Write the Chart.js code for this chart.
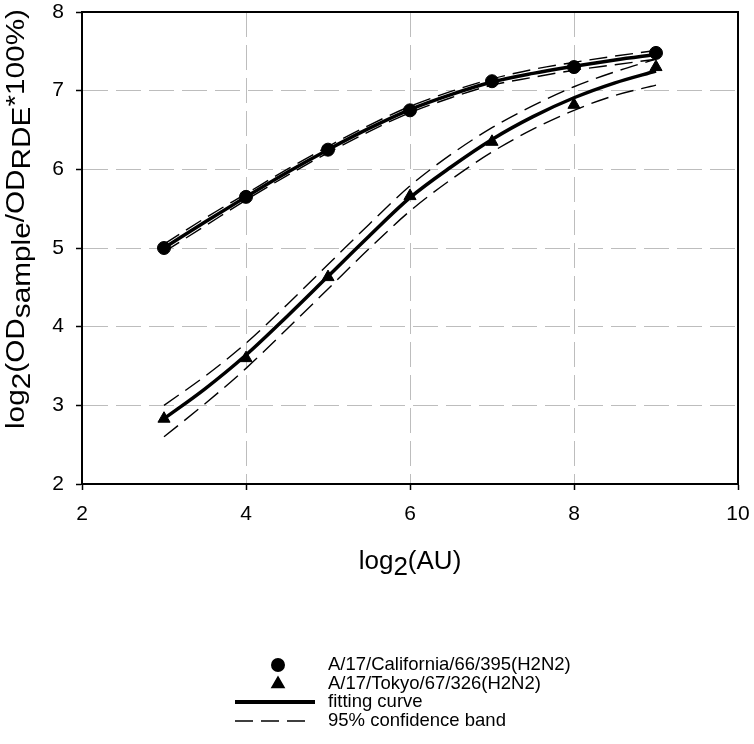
<!DOCTYPE html>
<html>
<head>
<meta charset="utf-8">
<script src="https://cdn.jsdelivr.net/npm/chart.js@4.4.1/dist/chart.umd.min.js"></script>
<style>
  html, body { margin: 0; padding: 0; background: #fff; }
</style>
</head>
<body>
<canvas id="chart" width="754" height="744"></canvas>
<script>
// measured points, log2(AU) vs log2(OD ratio)
const xPoints = [3, 4, 5, 6, 7, 8, 9];
const californiaPts = [5.00, 5.65, 6.25, 6.75, 7.12, 7.30, 7.48];
const tokyoPts = [2.83, 3.60, 4.63, 5.66, 6.35, 6.82, 7.30];

const xFit = [3, 3.5, 4, 4.5, 5, 5.5, 6, 6.5, 7, 7.5, 8, 8.5, 9];
const californiaFit   = [5.00, 5.33, 5.65, 5.96, 6.25, 6.52, 6.76, 6.95, 7.11, 7.22, 7.31, 7.39, 7.46];
const californiaUpper = [5.05, 5.38, 5.69, 6.00, 6.29, 6.56, 6.80, 6.99, 7.15, 7.27, 7.36, 7.44, 7.51];
const californiaLower = [4.95, 5.28, 5.61, 5.92, 6.21, 6.48, 6.72, 6.91, 7.07, 7.17, 7.26, 7.33, 7.40];
const tokyoFit   = [2.83, 3.21, 3.64, 4.13, 4.64, 5.15, 5.64, 6.03, 6.38, 6.67, 6.91, 7.10, 7.25];
const tokyoUpper = [3.00, 3.37, 3.79, 4.28, 4.79, 5.30, 5.79, 6.19, 6.53, 6.81, 7.05, 7.24, 7.40];
const tokyoLower = [2.60, 3.02, 3.47, 3.97, 4.48, 4.99, 5.47, 5.87, 6.22, 6.51, 6.75, 6.94, 7.07];

const legendLabels = ['A/17/California/66/395(H2N2)', 'A/17/Tokyo/67/326(H2N2)', 'fitting curve', '95% confidence band'];

const FONT = '"Liberation Sans", Arial, sans-serif';
const bandDash = [18, 8];

function xy(xs, ys) {
  return xs.map((x, i) => ({ x: x, y: ys[i] }));
}

function band(data) {
  return { data: xy(xFit, data), showLine: true, borderColor: '#000', borderWidth: 1.4,
           borderDash: bandDash, pointRadius: 0, cubicInterpolationMode: 'monotone', fill: false };
}
function fit(data) {
  return { data: xy(xFit, data), showLine: true, borderColor: '#000', borderWidth: 3.5,
           pointRadius: 0, cubicInterpolationMode: 'monotone', fill: false };
}

// draws text with same-size subscripts shifted down
function richWidth(ctx, parts) {
  return parts.reduce((w, p) => w + ctx.measureText(p[0]).width, 0);
}
function drawRich(ctx, parts, x, y) {
  let cx = x;
  parts.forEach(p => {
    ctx.fillText(p[0], cx, y + (p[1] ? 6 : 0));
    cx += ctx.measureText(p[0]).width;
  });
}

const extras = {
  id: 'extras',
  afterDraw(chart) {
    const ctx = chart.ctx;
    const a = chart.chartArea;
    ctx.save();
    // frame
    ctx.strokeStyle = '#000';
    ctx.lineWidth = 2;
    ctx.strokeRect(a.left, a.top, a.right - a.left, a.bottom - a.top);

    // axis titles
    ctx.fillStyle = '#000';
    ctx.textBaseline = 'alphabetic';
    ctx.textAlign = 'left';
    ctx.font = '26px ' + FONT;
    const xt = [['log'], ['2', 1], ['(AU)']];
    drawRich(ctx, xt, (a.left + a.right) / 2 - richWidth(ctx, xt) / 2, 569);

    ctx.font = '25px ' + FONT;
    const yt = [['log'], ['2', 1], ['(OD'], ['sample', 1], ['/OD'], ['RDE', 1], ['*100%)']];
    const w = richWidth(ctx, yt);
    const sx = 420 / w;
    ctx.save();
    ctx.translate(24, 219);
    ctx.rotate(-Math.PI / 2);
    ctx.scale(sx, 1);
    drawRich(ctx, yt, -w / 2, 0);
    ctx.restore();

    // legend
    const lx = 278, tx = 328, rows = [665, 684, 702, 721];
    ctx.font = '18.5px ' + FONT;
    ctx.textBaseline = 'middle';
    Chart.helpers.drawPoint(ctx, { pointStyle: 'circle', radius: 6, borderWidth: 1 }, lx, rows[0]);
    ctx.fill();
    Chart.helpers.drawPoint(ctx, { pointStyle: 'triangle', radius: 6.5, borderWidth: 1 }, lx, rows[1]);
    ctx.fill();
    ctx.lineWidth = 4;
    ctx.beginPath(); ctx.moveTo(235, rows[2]); ctx.lineTo(315, rows[2]); ctx.stroke();
    ctx.lineWidth = 1.5;
    ctx.setLineDash(bandDash);
    ctx.beginPath(); ctx.moveTo(235, rows[3]); ctx.lineTo(312, rows[3]); ctx.stroke();
    ctx.setLineDash([]);
    legendLabels.forEach((t, i) => ctx.fillText(t, tx, rows[i]));
    ctx.restore();
  }
};

const gridOpts = {
  color: '#bdbdbd', lineWidth: 1, tickColor: '#000', tickLength: 6, tickWidth: 1.5, tickBorderDash: []
};

new Chart(document.getElementById('chart'), {
  type: 'scatter',
  data: {
    datasets: [
      band(californiaUpper), band(californiaLower),
      band(tokyoUpper), band(tokyoLower),
      fit(californiaFit), fit(tokyoFit),
      { data: xy(xPoints, californiaPts), pointStyle: 'circle', pointRadius: 6.5,
        backgroundColor: '#000', borderColor: '#000', showLine: false },
      { data: xy(xPoints, tokyoPts), pointStyle: 'triangle', pointRadius: 7,
        backgroundColor: '#000', borderColor: '#000', showLine: false }
    ]
  },
  options: {
    responsive: false,
    animation: false,
    layout: { padding: { left: 0, top: 12, right: 16, bottom: 200 } },
    plugins: { legend: { display: false }, tooltip: { enabled: false } },
    scales: {
      x: {
        min: 2, max: 10,
        ticks: { stepSize: 2, color: '#000', padding: 12, font: { family: FONT, size: 21 } },
        grid: gridOpts,
        border: { color: '#000', width: 2, dash: [25, 8] },
        afterFit: s => { s.height = 60; s.paddingLeft = 0; s.paddingRight = 0; }
      },
      y: {
        min: 2, max: 8,
        ticks: { stepSize: 1, color: '#000', padding: 12, font: { family: FONT, size: 21 } },
        grid: gridOpts,
        border: { color: '#000', width: 2, dash: [25, 8] },
        afterFit: s => { s.width = 82; s.paddingTop = 0; s.paddingBottom = 0; }
      }
    }
  },
  plugins: [extras]
});
</script>
</body>
</html>
